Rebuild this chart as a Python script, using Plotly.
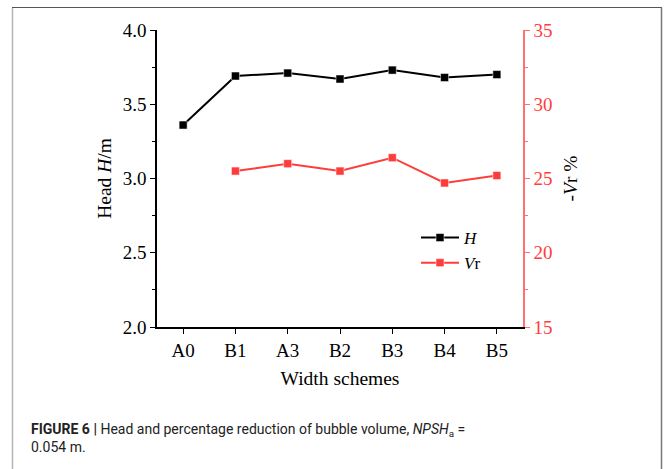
import plotly.graph_objects as go

categories = ["A0", "B1", "A3", "B2", "B3", "B4", "B5"]
head_values = [3.36, 3.69, 3.71, 3.67, 3.73, 3.68, 3.70]
vr_categories = ["B1", "A3", "B2", "B3", "B4", "B5"]
vr_values = [25.5, 26.0, 25.5, 26.4, 24.7, 25.2]

left_ticks = [2.0, 2.5, 3.0, 3.5, 4.0]
right_ticks = [15, 20, 25, 30, 35]

W, H = 665, 469
ML, MR, MT, MB = 157, 142, 30, 142
PW, PH = W - ML - MR, H - MT - MB

def px(x):
    return (x - ML) / PW

def py(y):
    return (H - MB - y) / PH

SERIF = "Liberation Serif"
RED = "#ff3c3c"
TICK = 19
TITLE = 19.5

fig = go.Figure()
fig.add_trace(go.Scatter(
    x=categories, y=head_values, name="<i>H</i>", mode="lines+markers",
    line=dict(color="black", width=2),
    marker=dict(symbol="square", size=8, color="black", line=dict(color="white", width=0.5)),
))
fig.add_trace(go.Scatter(
    x=vr_categories, y=vr_values, name="<i>V</i>r", mode="lines+markers", yaxis="y2",
    line=dict(color=RED, width=2),
    marker=dict(symbol="square", size=8, color=RED, line=dict(color="white", width=0.5)),
))

fig.update_layout(
    width=W, height=H, autosize=False,
    margin=dict(l=ML, r=MR, t=MT, b=MB),
    paper_bgcolor="white", plot_bgcolor="white",
    font=dict(family=SERIF, size=TICK, color="black"),
    showlegend=True,
    legend=dict(x=px(416), y=py(220), xanchor="left", yanchor="top",
                bgcolor="rgba(0,0,0,0)", font=dict(family=SERIF, size=17),
                tracegroupgap=0, itemwidth=38),
    xaxis=dict(
        type="category", categoryorder="array", categoryarray=categories,
        range=[-0.5, 6.5], showgrid=False, zeroline=False,
        showline=True, linecolor="black", linewidth=1.5,
        ticks="outside", ticklen=5, tickcolor="black", tickwidth=1,
        minor=dict(ticks="outside", ticklen=3, tickcolor="black", tickwidth=1, showgrid=False),
        tickfont=dict(family=SERIF, size=TICK),
        title=dict(text="Width schemes", font=dict(family=SERIF, size=TITLE), standoff=12),
    ),
    yaxis=dict(
        range=[2.0, 4.0], tickvals=left_ticks, ticktext=[f"{v:.1f}" for v in left_ticks],
        showgrid=False, zeroline=False,
        showline=True, linecolor="black", linewidth=1.5,
        ticks="outside", ticklen=5, tickcolor="black", tickwidth=1,
        minor=dict(ticks="outside", ticklen=3, tickcolor="black", dtick=0.25, tick0=2.0, showgrid=False),
        tickfont=dict(family=SERIF, size=TICK),
        title=dict(text="Head <i>H</i>/m", font=dict(family=SERIF, size=TITLE), standoff=6),
    ),
    yaxis2=dict(
        overlaying="y", side="right", range=[15, 35], tickvals=right_ticks,
        showgrid=False, zeroline=False,
        showline=True, linecolor="#ff7070", linewidth=1.5,
        ticks="outside", ticklen=5, tickcolor="#ff7070", tickwidth=1,
        minor=dict(ticks="outside", ticklen=3, tickcolor="#ff7070", dtick=2.5, tick0=15, showgrid=False),
        tickfont=dict(family=SERIF, size=TICK, color=RED),
        title=dict(text="-<i>V</i>r %", font=dict(family=SERIF, size=TITLE, color="black"), standoff=12),
    ),
)

# Figure frame
fig.add_shape(type="line", xref="paper", yref="paper", x0=px(12.5), x1=px(12.5), y0=py(7.5), y1=py(470),
              line=dict(color="#b4b4b4", width=1.5))
fig.add_shape(type="line", xref="paper", yref="paper", x0=px(12), x1=px(662), y0=py(7.5), y1=py(7.5),
              line=dict(color="#555555", width=1.2))
fig.add_shape(type="line", xref="paper", yref="paper", x0=px(661.5), x1=px(661.5), y0=py(7.5), y1=py(470),
              line=dict(color="#777777", width=1.5))

# Caption
fig.add_annotation(
    xref="paper", yref="paper", x=px(29), y=py(438), xanchor="left", yanchor="middle",
    align="left", showarrow=False,
    text="<b>FIGURE 6 |</b> Head and percentage reduction of bubble volume, <i>NPSH</i><sub>a</sub> =<br>0.054 m.",
    font=dict(family="Roboto", size=14, color="#222222"),
)

fig.write_html("out.html")
